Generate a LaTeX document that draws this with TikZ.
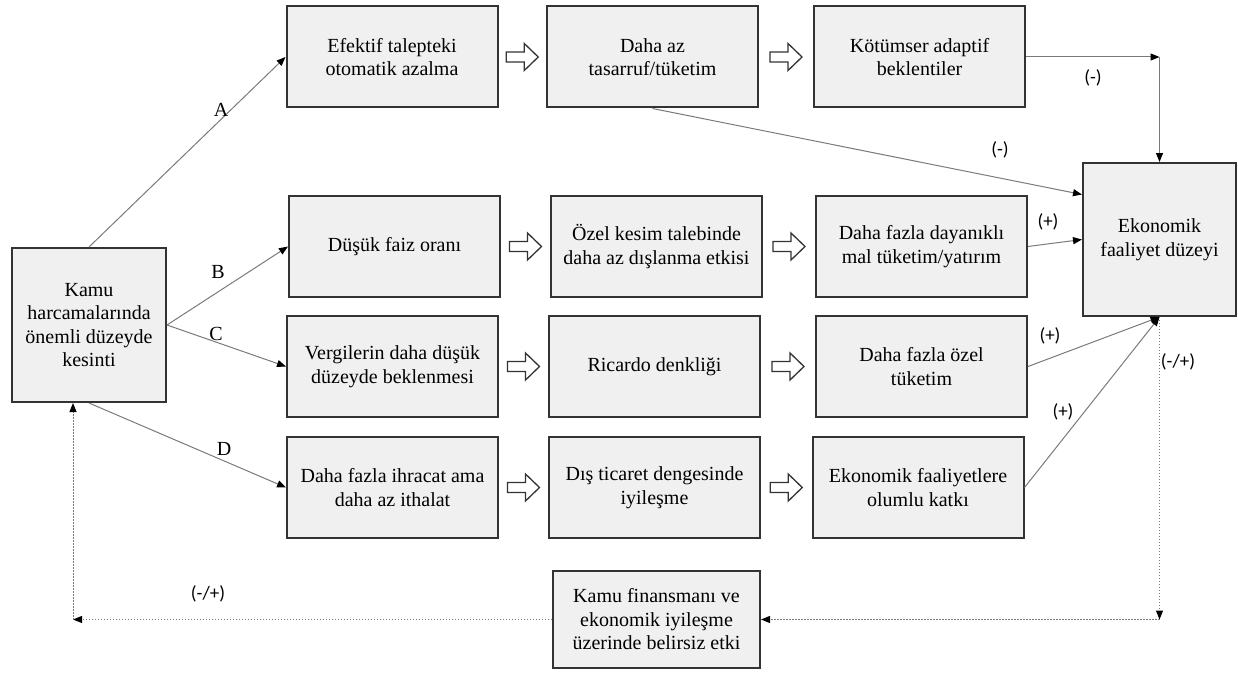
\documentclass[tikz,border=0pt]{standalone}
\usepackage{fontspec}
\setmainfont{Liberation Serif}
\newfontfamily\labfont{Carlito}
\usetikzlibrary{arrows.meta,calc}
\definecolor{boxfill}{HTML}{F0F0F0}
\definecolor{boxline}{HTML}{333333}
\definecolor{connc}{HTML}{7A7A7A}
\begin{document}
\begin{tikzpicture}[x=1pt,y=-1pt,
 box/.style={draw=boxline,line width=2pt,fill=boxfill,inner sep=0pt,align=center,font=\fontsize{20}{23.5}\selectfont},
 rbox/.style={box,minimum width=211pt,minimum height=101pt},
 conn/.style={draw=connc,line width=1pt,-{Triangle[length=9pt,width=7pt,color=black]}},
 dotconn/.style={draw=connc,line width=1pt,dash pattern=on 1.2pt off 1.8pt,-{Triangle[length=9pt,width=7pt,color=black]}},
 lab/.style={font=\fontsize{20}{24}\selectfont,inner sep=0pt},
 sign/.style={font=\labfont\fontsize{19}{22}\selectfont,inner sep=0pt},
 pics/barrow/.style={code={\draw[boxline,line width=1.3pt,fill=white,line join=miter] (-16,-5)--(2,-5)--(2,-13.5)--(16,0)--(2,13.5)--(2,5)--(-16,5)--cycle;}}]
\useasboundingbox (0,0) rectangle (1238,674);

% boxes
\node[box,minimum width=154pt,minimum height=154pt] (kamu) at (89,325) {Kamu\\harcamalarında\\önemli düzeyde\\kesinti};
\node[rbox] (efektif) at (392,57) {Efektif talepteki\\otomatik azalma};
\node[rbox] (dahaaz) at (652.5,57) {Daha az\\tasarruf/tüketim};
\node[rbox] (kotumser) at (919.5,57) {Kötümser adaptif\\beklentiler};
\node[box,minimum width=153pt,minimum height=153pt] (ekonomik) at (1159.5,239.5) {Ekonomik\\faaliyet düzeyi};

\node[rbox] (dusuk) at (394.5,246.5) {Düşük faiz oranı};
\node[rbox] (ozel) at (656.5,246.5) {Özel kesim talebinde\\daha az dışlanma etkisi};
\node[rbox] (dayanikli) at (921.5,246.5) {Daha fazla dayanıklı\\mal tüketim/yatırım};

\node[rbox] (vergi) at (392.5,366.5) {Vergilerin daha düşük\\düzeyde beklenmesi};
\node[rbox] (ricardo) at (654.5,366.5) {Ricardo denkliği};
\node[rbox] (ozeltuk) at (921.5,366.5) {Daha fazla özel\\tüketim};

\node[rbox] (ihracat) at (392.5,487.5) {Daha fazla ihracat ama\\daha az ithalat};
\node[rbox] (dis) at (654.5,487.5) {Dış ticaret dengesinde\\iyileşme};
\node[rbox] (katki) at (918,487.5) {Ekonomik faaliyetlere\\olumlu katkı};

\node[box,minimum width=207pt,minimum height=97pt] (finans) at (656.5,619.5) {Kamu finansmanı ve\\ekonomik iyileşme\\üzerinde belirsiz etki};

% block arrows
\pic at ($(efektif.east)!0.5!(dahaaz.west)$) {barrow};
\pic at ($(dahaaz.east)!0.5!(kotumser.west)$) {barrow};
\pic at ($(dusuk.east)!0.5!(ozel.west)$) {barrow};
\pic at ($(ozel.east)!0.5!(dayanikli.west)$) {barrow};
\pic at ($(vergi.east)!0.5!(ricardo.west)$) {barrow};
\pic at ($(ricardo.east)!0.5!(ozeltuk.west)$) {barrow};
\pic at ($(ihracat.east)!0.5!(dis.west)$) {barrow};
\pic at ($(dis.east)!0.5!(katki.west)$) {barrow};

% left fan
\draw[conn] (kamu.north) -- (efektif.west);
\draw[conn] (kamu.east) -- (dusuk.west);
\draw[conn] (kamu.east) -- (vergi.west);
\draw[conn] (kamu.south) -- (ihracat.west);
\node[lab] (lA) at (221,110) {A};
\node[lab] (lB) at (218,272) {B};
\node[lab] (lC) at (216,334) {C};
\node[lab] (lD) at (224,449) {D};

% to Ekonomik
\coordinate (tr) at (ekonomik.north |- kotumser.east);
\draw[conn] (kotumser.east) -- (tr);
\draw[conn] (tr) -- (ekonomik.north);
\coordinate (ek1) at ($(ekonomik.west)+(0,-45)$);
\draw[conn] (dahaaz.south) -- (ek1);
\draw[conn] (dayanikli.east) -- (ekonomik.west);
\draw[conn] (ozeltuk.east) -- (ekonomik.south);
\draw[conn] (katki.east) -- (ekonomik.south);

\node[sign] (s1) at (1093,78) {(-)};
\node[sign] (s2) at (1000,150) {(-)};
\node[sign] (s3) at (1048,222) {(+)};
\node[sign] (s4) at (1050,336) {(+)};
\node[sign] (s5) at (1063,412) {(+)};
\node[sign] (s6) at (1178,362) {(-/+)};
\node[sign] (s7) at (208,594) {(-/+)};

% dotted feedback
\coordinate (br) at (ekonomik.south |- finans.east);
\coordinate (bl) at (73,619.5);
\draw[dotconn] (ekonomik.south) -- (br);
\draw[dotconn] (br) -- (finans.east);
\draw[dotconn] (finans.west) -- (bl);
\draw[dotconn] (bl) -- (bl |- kamu.south);
\end{tikzpicture}
\end{document}
